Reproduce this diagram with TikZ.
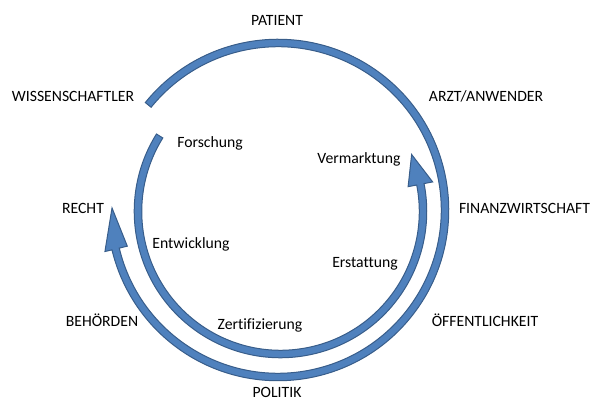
\documentclass[tikz,border=0pt]{standalone}
\usepackage{fontspec}
\setmainfont{Carlito}[Ligatures=CommonOff]
\usepackage{tikz}
\usetikzlibrary{calc}

\begin{document}
\begin{tikzpicture}[x=1pt, y=1pt,
        band/.style = {fill=ringfill, draw=ringline, line width=1pt, line join=miter},
        lbl/.style = {font=\fontsize{15.7}{18}\selectfont, inner sep=0pt}]
        \definecolor{ringfill}{RGB}{79,129,189}
        \definecolor{ringline}{RGB}{56,93,138}
        \useasboundingbox (0,0) rectangle (592,401);
        % outer ring, clockwise, arrow ends at the left
        \begin{scope}[shift={(278,191)}]
            \filldraw[band] (141:170.75) arc[start angle=141, end angle=-166.5, radius=170.75]
                -- (-166.5:178) -- (-180.7:166) -- (-166.5:155) -- (-166.5:163.25)
                arc[start angle=-166.5, end angle=141, radius=163.25] -- cycle;
        \end{scope}
        % inner ring, counterclockwise, arrow ends at the right
        \begin{scope}[shift={(280.5,189.5)}]
            \filldraw[band] (148:146.25) arc[start angle=148, end angle=371, radius=146.25]
                -- (371:155) -- (383.5:143) -- (371:130) -- (371:138.75)
                arc[start angle=371, end angle=148, radius=138.75] -- cycle;
        \end{scope}
        % outer labels
        \node[lbl] (patient) at (277, 381) {PATIENT};
        \node[lbl] (wiss) at (73, 305) {WISSENSCHAFTLER};
        \node[lbl] (arzt) at (486, 305) {ARZT/ANWENDER};
        \node[lbl] (recht) at (83, 193) {RECHT};
        \node[lbl] (finanz) at (524.5, 193) {FINANZWIRTSCHAFT};
        \node[lbl] (behoerden) at (102, 81) {BEHÖRDEN};
        \node[lbl] (oeff) at (485, 81) {ÖFFENTLICHKEIT};
        \node[lbl] (politik) at (277, 9) {POLITIK};
        % inner labels
        \node[lbl] (forschung) at (210, 258) {Forschung};
        \node[lbl] (vermarktung) at (359, 242) {Vermarktung};
        \node[lbl] (entwicklung) at (191, 157) {Entwicklung};
        \node[lbl] (erstattung) at (365, 137) {Erstattung};
        \node[lbl] (zert) at (260, 76) {Zertifizierung};
\end{tikzpicture}
\end{document}
